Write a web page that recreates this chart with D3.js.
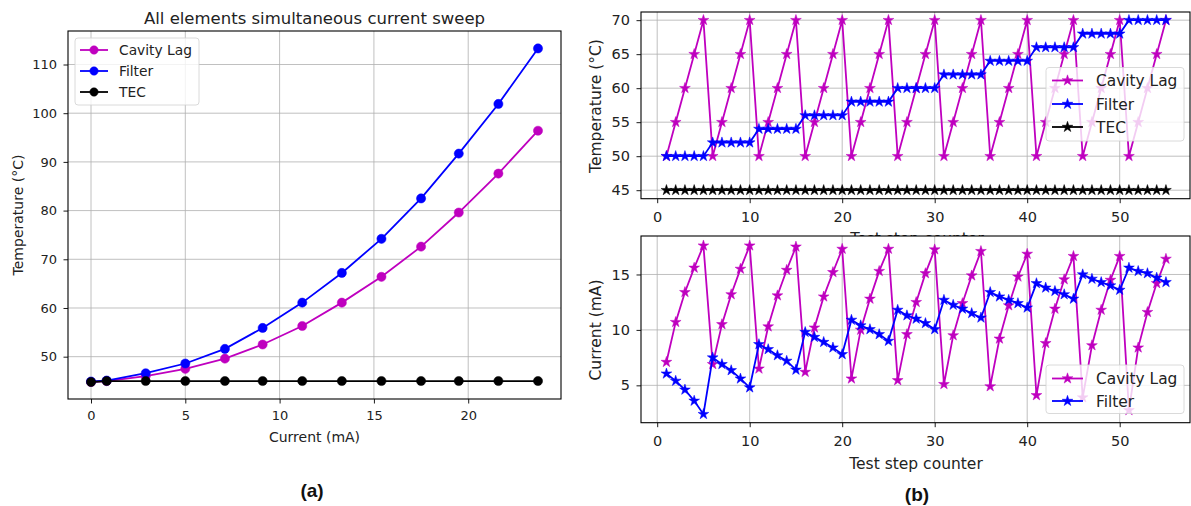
<!DOCTYPE html>
<html lang="en">
<head>
<meta charset="utf-8">
<title>Current sweep and test steps</title>
<script src="https://d3js.org/d3.v7.min.js"></script>
<style>
  html,body{margin:0;background:#fff}
  svg{display:block;font-family:"DejaVu Sans",sans-serif}
  .grid line{stroke:#b0b0b0;stroke-width:0.8}
  .tick text{fill:#222}
  .lbl{fill:#222}
</style>
</head>
<body>
<svg id="fig" width="1191" height="506"></svg>
<script>
// ---- (a) all elements simultaneous current sweep ----
const sweepCurrent = [0, 0.83, 2.9, 5.0, 7.1, 9.1, 11.2, 13.3, 15.4, 17.5, 19.5, 21.6, 23.7];
const sweepCavity  = [44.8, 45.0, 46.0, 47.5, 49.6, 52.5, 56.3, 61.1, 66.4, 72.6, 79.6, 87.6, 96.4];
const sweepFilter  = [44.9, 45.1, 46.6, 48.6, 51.6, 55.9, 61.1, 67.2, 74.2, 82.5, 91.7, 101.9, 113.3];
const sweepTec     = [44.8, 45.0, 45.0, 45.0, 45.0, 45.0, 45.0, 45.0, 45.0, 45.0, 45.0, 45.0, 45.0];
const sweepXTicks  = [0, 5, 10, 15, 20];
const sweepYTicks  = [50, 60, 70, 80, 90, 100, 110];

// ---- (b) test step sequence ----
const steps = [1,2,3,4,5,6,7,8,9,10,11,12,13,14,15,16,17,18,19,20,21,22,23,24,25,26,27,28,29,30,
               31,32,33,34,35,36,37,38,39,40,41,42,43,44,45,46,47,48,49,50,51,52,53,54,55];
const tempCavity = [50,55,60,65,70, 50,55,60,65,70, 50,55,60,65,70, 50,55,60,65,70, 50,55,60,65,70,
                    50,55,60,65,70, 50,55,60,65,70, 50,55,60,65,70, 50,55,60,65,70, 50,55,60,65,70,
                    50,55,60,65,70];
const tempFilter = [50,50,50,50,50, 52,52,52,52,52, 54,54,54,54,54, 56,56,56,56,56, 58,58,58,58,58,
                    60,60,60,60,60, 62,62,62,62,62, 64,64,64,64,64, 66,66,66,66,66, 68,68,68,68,68,
                    70,70,70,70,70];
const tempTec = [45,45,45,45,45, 45,45,45,45,45, 45,45,45,45,45, 45,45,45,45,45, 45,45,45,45,45,
                 45,45,45,45,45, 45,45,45,45,45, 45,45,45,45,45, 45,45,45,45,45, 45,45,45,45,45,
                 45,45,45,45,45];
const curCavity = [7.1,10.7,13.4,15.6,17.6, 6.9,10.5,13.2,15.5,17.6, 6.5,10.3,13.1,15.4,17.5,
                   6.2,10.2,13.0,15.2,17.3, 5.6,10.0,12.8,15.3,17.3, 5.45,9.6,12.5,15.1,17.25,
                   5.1,9.5,12.4,14.9,17.1, 4.9,9.2,12.2,14.8,16.85, 4.1,8.8,11.9,14.55,16.65,
                   3.9,8.6,11.8,14.5,16.65, 2.75,8.4,11.6,14.2,16.4];
const curFilter = [6.05,5.4,4.6,3.6,2.4, 7.5,6.9,6.35,5.6,4.8, 8.7,8.25,7.7,7.2,6.4,
                   9.8,9.35,8.9,8.4,7.8, 10.9,10.4,10.05,9.6,9.0, 11.8,11.3,11.0,10.6,10.05,
                   12.7,12.25,11.9,11.5,11.1, 13.4,13.0,12.7,12.4,12.0, 14.2,13.8,13.5,13.2,12.8,
                   15.0,14.6,14.3,14.0,13.6, 15.6,15.3,15.1,14.7,14.3];
const stepXTicks = [0, 10, 20, 30, 40, 50];
const tempYTicks = [45, 50, 55, 60, 65, 70];
const curYTicks  = [5, 10, 15];

const MAG = '#bf00bf', BLUE = '#0000ff', BLK = '#000000';
const svg = d3.select('#fig');

// draws frame, grid and tick labels of one matplotlib-like axes
function axesBox(g, x, y, xt, yt, fs, padX, padY){
  const [x0,x1] = x.range(), [y0,y1] = y.range();
  g.append('rect').attr('x',x0).attr('y',y1).attr('width',x1-x0).attr('height',y0-y1).attr('fill','#fff');
  const grid = g.append('g').attr('class','grid');
  grid.selectAll('.gx').data(xt).join('line').attr('class','gx')
      .attr('x1',d=>x(d)).attr('x2',d=>x(d)).attr('y1',y0).attr('y2',y1);
  grid.selectAll('.gy').data(yt).join('line').attr('class','gy')
      .attr('y1',d=>y(d)).attr('y2',d=>y(d)).attr('x1',x0).attr('x2',x1);
  const ax = g.append('g').attr('transform',`translate(0,${y0})`)
      .call(d3.axisBottom(x).tickValues(xt).tickSize(4.5).tickPadding(padX).tickFormat(d3.format('d')));
  const ay = g.append('g').attr('transform',`translate(${x0},0)`)
      .call(d3.axisLeft(y).tickValues(yt).tickSize(4.5).tickPadding(padY).tickFormat(d3.format('d')));
  [ax,ay].forEach(a=>{
    a.select('.domain').remove();
    a.selectAll('.tick line').attr('stroke','#000').attr('stroke-width',0.9);
    a.selectAll('.tick text').style('font-size',fs+'px').style('font-family','"DejaVu Sans",sans-serif');
  });
  return ()=>g.append('rect').attr('x',x0).attr('y',y1).attr('width',x1-x0).attr('height',y0-y1)
              .attr('fill','none').attr('stroke','#000').attr('stroke-width',1.1);
}

function series(g, x, y, xs, ys, color, sym){
  const pts = xs.map((v,i)=>[v, ys[i]]);
  g.append('path').datum(pts).attr('fill','none').attr('stroke',color).attr('stroke-width',1.8)
   .attr('d', d3.line().x(d=>x(d[0])).y(d=>y(d[1])));
  g.selectAll(null).data(pts).join('path')
   .attr('transform',d=>`translate(${x(d[0])},${y(d[1])})`)
   .attr('d', sym).attr('fill',color).attr('stroke',color).attr('stroke-width',0.5);
}

function legend(g, x0, y0, w, h, items, lineX, textX, fs, sym){
  g.append('rect').attr('x',x0).attr('y',y0).attr('width',w).attr('height',h).attr('rx',3)
   .attr('fill','#fff').attr('fill-opacity',0.8).attr('stroke','#d0d0d0').attr('stroke-width',0.8);
  items.forEach(it=>{
    g.append('line').attr('x1',lineX[0]).attr('x2',lineX[1]).attr('y1',it.y).attr('y2',it.y)
     .attr('stroke',it.c).attr('stroke-width',1.8);
    g.append('path').attr('transform',`translate(${(lineX[0]+lineX[1])/2},${it.y})`)
     .attr('d',sym).attr('fill',it.c).attr('stroke',it.c).attr('stroke-width',0.5);
    g.append('text').attr('class','lbl').attr('x',textX).attr('y',it.y).attr('dy','0.36em')
     .style('font-size',fs+'px').text(it.t);
  });
}

// ---------------- panel (a) ----------------
{
  const g = svg.append('g');
  const x = d3.scaleLinear().domain([-1.22, 24.92]).range([68, 561]);
  const y = d3.scaleLinear().domain([41.31, 116.88]).range([399, 31]);
  const frame = axesBox(g, x, y, sweepXTicks, sweepYTicks, 13, 7, 6.5);
  const dot = d3.symbol(d3.symbolCircle, 66)();
  series(g, x, y, sweepCurrent, sweepCavity, MAG, dot);
  series(g, x, y, sweepCurrent, sweepFilter, BLUE, dot);
  series(g, x, y, sweepCurrent, sweepTec, BLK, dot);
  frame();
  legend(g, 75, 38, 124, 67, [
    {t:'Cavity Lag', c:MAG, y:50}, {t:'Filter', c:BLUE, y:71}, {t:'TEC', c:BLK, y:92}
  ], [80, 108], 119, 13.8, d3.symbol(d3.symbolCircle, 55)());
  g.append('text').attr('class','lbl').attr('x',314.5).attr('y',24).attr('text-anchor','middle')
   .style('font-size','16.5px').text('All elements simultaneous current sweep');
  g.append('text').attr('class','lbl').attr('x',314.5).attr('y',442).attr('text-anchor','middle')
   .style('font-size','14px').text('Current (mA)');
  g.append('text').attr('class','lbl').attr('transform','translate(23,215) rotate(-90)').attr('text-anchor','middle')
   .style('font-size','14px').text('Temperature (°C)');
  g.append('text').attr('x',312).attr('y',497).attr('text-anchor','middle')
   .style('font-family','"Liberation Sans",Arial,sans-serif').style('font-weight','bold').style('font-size','19px')
   .attr('fill','#111').text('(a)');
}

// ---------------- panel (b) ----------------
{
  const star = d3.symbol(d3.symbolStar, 36)();
  const x = d3.scaleLinear().domain([-1.75, 57.6]).range([641, 1190]);

  // top: temperatures
  const gt = svg.append('g');
  const yt = d3.scaleLinear().domain([43.75, 71.2]).range([198.7, 12]);
  const frameT = axesBox(gt, x, yt, stepXTicks, tempYTicks, 14.5, 9, 6.5);
  series(gt, x, yt, steps, tempCavity, MAG, star);
  series(gt, x, yt, steps, tempFilter, BLUE, star);
  series(gt, x, yt, steps, tempTec, BLK, star);
  frameT();
  legend(gt, 1046, 67.5, 138, 73.5, [
    {t:'Cavity Lag', c:MAG, y:80.5}, {t:'Filter', c:BLUE, y:104}, {t:'TEC', c:BLK, y:127}
  ], [1052, 1083], 1096, 15.4, star);
  gt.append('text').attr('class','lbl').attr('x',917).attr('y',244).attr('text-anchor','middle')
   .style('font-size','15.5px').text('Test step counter');
  gt.append('text').attr('class','lbl').attr('transform','translate(601,106) rotate(-90)').attr('text-anchor','middle')
   .style('font-size','15.5px').text('Temperature (°C)');

  // bottom: currents (its white face hides most of the upper x label)
  const gb = svg.append('g');
  const yb = d3.scaleLinear().domain([1.63, 18.47]).range([422.7, 236]);
  const frameB = axesBox(gb, x, yb, stepXTicks, curYTicks, 14.5, 9, 6.5);
  series(gb, x, yb, steps, curCavity, MAG, star);
  series(gb, x, yb, steps, curFilter, BLUE, star);
  frameB();
  legend(gb, 1046, 365, 138, 48.5, [
    {t:'Cavity Lag', c:MAG, y:378.5}, {t:'Filter', c:BLUE, y:401}
  ], [1052, 1083], 1096, 15.4, star);
  gb.append('text').attr('class','lbl').attr('x',916).attr('y',469).attr('text-anchor','middle')
   .style('font-size','15.5px').text('Test step counter');
  gb.append('text').attr('class','lbl').attr('transform','translate(601,330) rotate(-90)').attr('text-anchor','middle')
   .style('font-size','15.5px').text('Current (mA)');
  gb.append('text').attr('x',917).attr('y',501).attr('text-anchor','middle')
   .style('font-family','"Liberation Sans",Arial,sans-serif').style('font-weight','bold').style('font-size','19px')
   .attr('fill','#111').text('(b)');
}
</script>
</body>
</html>
